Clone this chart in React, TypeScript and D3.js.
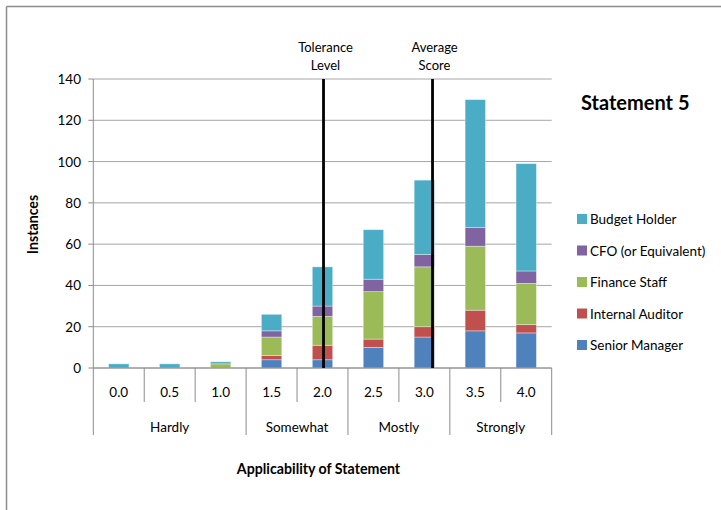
import React from "react";
import * as d3 from "d3";

// Score buckets along the x axis and their descriptive groups
const scores = ["0.0", "0.5", "1.0", "1.5", "2.0", "2.5", "3.0", "3.5", "4.0"];
const groups = [
  { label: "Hardly", from: 0, to: 3 },
  { label: "Somewhat", from: 3, to: 5 },
  { label: "Mostly", from: 5, to: 7 },
  { label: "Strongly", from: 7, to: 9 },
];

// Respondent counts per role (stacked bottom to top)
const seniorManager = [0, 0, 0, 4, 4, 10, 15, 18, 17];
const internalAuditor = [0, 0, 0, 2, 7, 4, 5, 10, 4];
const financeStaff = [0, 0, 2, 9, 14, 23, 29, 31, 20];
const cfo = [0, 0, 0, 3, 5, 6, 6, 9, 6];
const budgetHolder = [2, 2, 1, 8, 19, 24, 36, 62, 52];

const seriesNames = ["Senior Manager", "Internal Auditor", "Finance Staff", "CFO (or Equivalent)", "Budget Holder"];
const seriesColors = ["#4f81bd", "#c0504d", "#9bbb59", "#8064a2", "#4bacc6"];
const seriesValues = [seniorManager, internalAuditor, financeStaff, cfo, budgetHolder];

const yTicks = [0, 20, 40, 60, 80, 100, 120, 140];

// Reference markers drawn as vertical lines
const markers = [
  { lines: ["Tolerance", "Level"], value: 2.01 },
  { lines: ["Average", "Score"], value: 3.08 },
];

const FONT = "Lato, 'Open Sans', sans-serif";

export default function App() {
  const width = 721;
  const height = 510;
  const left = 93.3;
  const right = 551.7;
  const top = 79;
  const bottom = 368;

  const x = d3.scaleBand<string>().domain(scores).range([left, right]).paddingInner(0).paddingOuter(0);
  const y = d3.scaleLinear().domain([0, 140]).range([bottom, top]);
  const bw = x.bandwidth();
  const barW = bw * 0.4;
  const scoreX = d3
    .scaleLinear()
    .domain([0, 4])
    .range([x(scores[0])! + bw / 2, x(scores[scores.length - 1])! + bw / 2]);

  const rows = scores.map((s, i) => {
    const r: Record<string, number | string> = { score: s };
    seriesNames.forEach((n, k) => (r[n] = seriesValues[k][i]));
    return r;
  });
  const stacked = d3.stack<Record<string, number | string>>().keys(seriesNames)(rows as any);

  const boundaries = d3.range(scores.length + 1);
  const groupEdges = new Set<number>([0, ...groups.map((g) => g.to)]);
  const gx = (i: number) => left + i * bw;

  const legendTop = 219;
  const legendStep = 31.5;
  const legendOrder = [4, 3, 2, 1, 0];

  return (
    <svg
      width={width}
      height={height}
      style={{ position: "absolute", left: 0, top: 0, background: "#fff" }}
      fontFamily={FONT}
    >
      {/* outer frame */}
      <line x1={6.5} y1={6.5} x2={width} y2={6.5} stroke="#8c8c8c" strokeWidth={1.5} />
      <line x1={6.5} y1={6.5} x2={6.5} y2={height} stroke="#8c8c8c" strokeWidth={1.5} />

      {/* gridlines */}
      {yTicks.map((t) => (
        <line key={"g" + t} x1={left} x2={right} y1={y(t)} y2={y(t)} stroke="#a6a6a6" strokeWidth={1} />
      ))}

      {/* y axis */}
      <line x1={left} x2={left} y1={top} y2={bottom} stroke="#8c8c8c" strokeWidth={1} />
      {yTicks.map((t) => (
        <g key={"t" + t}>
          <line x1={left - 5} x2={left} y1={y(t)} y2={y(t)} stroke="#8c8c8c" />
          <text x={81} y={y(t) + 5} textAnchor="end" fontSize={13.5} fill="#000">
            {t}
          </text>
        </g>
      ))}
      <text
        transform={`translate(38,${(top + bottom) / 2 + 1}) rotate(-90)`}
        textAnchor="middle"
        fontSize={14.2}
        fontWeight="bold"
        fill="#000"
      >
        Instances
      </text>

      {/* stacked bars */}
      {stacked.map((layer, k) => (
        <g key={layer.key} fill={seriesColors[k]}>
          {layer.map((d, i) =>
            d[1] - d[0] > 0 ? (
              <rect
                key={i}
                x={x(scores[i])! + (bw - barW) / 2}
                y={y(d[1])}
                width={barW}
                height={y(d[0]) - y(d[1])}
                stroke="rgba(255,255,255,0.45)"
                strokeWidth={0.8}
              />
            ) : null
          )}
        </g>
      ))}

      {/* category axis with two label tiers */}
      <line x1={left} x2={right} y1={bottom} y2={bottom} stroke="#8c8c8c" />
      {boundaries.map((i) => (
        <line
          key={"b" + i}
          x1={gx(i)}
          x2={gx(i)}
          y1={bottom}
          y2={groupEdges.has(i) ? 435 : 402}
          stroke="#8c8c8c"
        />
      ))}
      {scores.map((s) => (
        <text key={"l" + s} x={x(s)! + bw / 2} y={397} textAnchor="middle" fontSize={13.5} fill="#000">
          {s}
        </text>
      ))}
      {groups.map((g) => (
        <text key={g.label} x={(gx(g.from) + gx(g.to)) / 2} y={431.5} textAnchor="middle" fontSize={13.5} fill="#000">
          {g.label}
        </text>
      ))}
      <text x={(left + right) / 2 - 4} y={474} textAnchor="middle" fontSize={14.2} fontWeight="bold" fill="#000">
        Applicability of Statement
      </text>

      {/* marker lines */}
      {markers.map((m) => {
        const mx = scoreX(m.value);
        return (
          <g key={m.lines[0]}>
            <line x1={mx} x2={mx} y1={top} y2={bottom} stroke="#000" strokeWidth={2.8} />
            {m.lines.map((ln, j) => (
              <text key={ln} x={mx + 2} y={51.5 + j * 18.5} textAnchor="middle" fontSize={13} fill="#000">
                {ln}
              </text>
            ))}
          </g>
        );
      })}

      {/* title */}
      <text x={581} y={109.5} fontSize={20} fontWeight="bold" fill="#000">
        Statement 5
      </text>

      {/* legend */}
      {legendOrder.map((k, j) => (
        <g key={seriesNames[k]} transform={`translate(577,${legendTop + j * legendStep})`}>
          <rect x={0} y={-5} width={10} height={10} fill={seriesColors[k]} />
          <text x={13} y={5} fontSize={13.5} fill="#000">
            {seriesNames[k]}
          </text>
        </g>
      ))}
    </svg>
  );
}
